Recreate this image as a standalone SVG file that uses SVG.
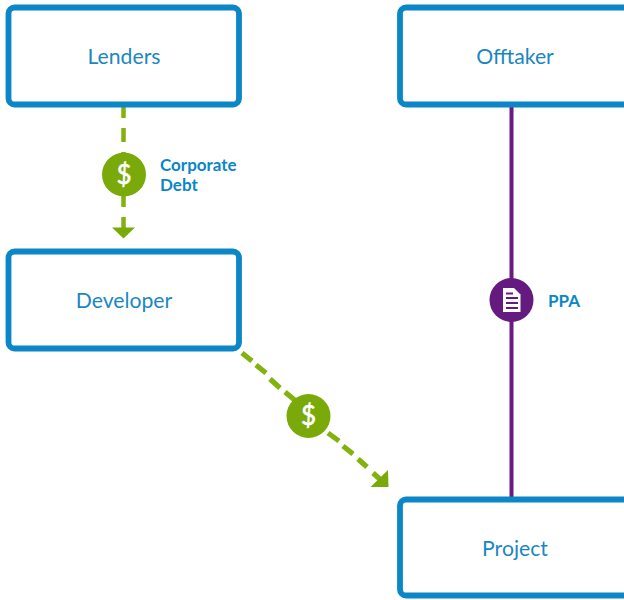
<svg xmlns="http://www.w3.org/2000/svg" width="624" height="600" viewBox="0 0 624 600">
<defs><style>
.box{fill:#fff;stroke:#0b86c6;stroke-width:5.8}
.name{font-family:Lato,sans-serif;font-size:21.2px;fill:#1b87c2;text-anchor:middle}
.lab{font-family:Lato,sans-serif;font-size:17px;font-weight:700;fill:#0b86c6}
.dash{fill:none;stroke:#83b10d;stroke-width:4.5}
.diag{stroke-width:5.2}
.coin{fill:#7aaa0a}
.sym{font-family:Lato,sans-serif;font-size:26px;font-weight:400;fill:#fff;stroke:#fff;stroke-width:.6;text-anchor:middle}
</style></defs>
<rect width="624" height="600" fill="#fff"/>
<g id="connectors">
<path class="dash" d="M123.500 106V118M123.500 128V142M123.500 152V160M123.500 190V207M123.500 217V230"/>
<path d="M112 227.500H135L123.500 238.500Z" fill="#7aaa0a"/>
<path class="dash diag" d="M242 353L252 361M256 365L266 373M270 379L280 388M285 392L297 402M328 433L339 441M343 446L353 454M358 459L367 467M373 473L382 481"/>
<path d="M388 470L388.500 487H370.500Z" fill="#7aaa0a"/>
<path d="M511.500 106V498" fill="none" stroke="#6a1b83" stroke-width="4"/>
</g>
<g id="lenders"><rect class="box" x="8.500" y="7.500" width="230.500" height="97" rx="6"/><text class="name" x="124" y="64">Lenders</text></g>
<g id="offtaker"><rect class="box" x="400" y="7.500" width="240" height="97" rx="6"/><text class="name" x="515" y="64">Offtaker</text></g>
<g id="developer"><rect class="box" x="8.500" y="251.500" width="230.500" height="97" rx="6"/><text class="name" x="124" y="308">Developer</text></g>
<g id="project"><rect class="box" x="400" y="499.500" width="240" height="96" rx="6"/><text class="name" x="515" y="556">Project</text></g>
<g id="corporate-debt"><circle class="coin" cx="124" cy="174.500" r="22"/><text class="sym" x="124" y="184">$</text><text class="lab"><tspan x="160" y="171">Corporate</tspan><tspan x="160" y="191">Debt</tspan></text></g>
<g id="equity"><circle class="coin" cx="308.500" cy="416" r="22"/><text class="sym" x="308.500" y="425">$</text></g>
<g id="ppa"><circle cx="511.500" cy="300" r="22" fill="#651a80"/>
<path d="M503 288H514L520.500 294.500V312H503Z" fill="#fff"/>
<path d="M506 293.500H513M506 298H518M506 303H518M506 308H518" stroke="#651a80" stroke-width="1.800" fill="none"/>
<text class="lab" x="548" y="306.500">PPA</text></g>
</svg>
